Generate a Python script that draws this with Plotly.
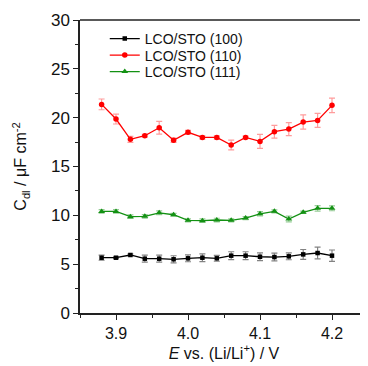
import plotly.graph_objects as go

E = [3.88, 3.90, 3.92, 3.94, 3.96, 3.98, 4.00, 4.02, 4.04, 4.06, 4.08, 4.10, 4.12, 4.14, 4.16, 4.18, 4.20]

c100 = [5.66, 5.66, 5.94, 5.56, 5.56, 5.50, 5.60, 5.66, 5.60, 5.87, 5.87, 5.76, 5.73, 5.80, 6.00, 6.14, 5.87]
e100 = [0.26, 0.10, 0.10, 0.36, 0.36, 0.36, 0.35, 0.40, 0.30, 0.40, 0.40, 0.40, 0.40, 0.35, 0.50, 0.60, 0.58]

c110 = [21.36, 19.86, 17.78, 18.15, 18.97, 17.68, 18.50, 17.98, 17.98, 17.20, 17.98, 17.57, 18.56, 18.83, 19.55, 19.72, 21.26]
e110 = [0.55, 0.51, 0.30, 0.15, 0.65, 0.22, 0.20, 0.17, 0.17, 0.50, 0.12, 0.72, 0.65, 0.67, 0.73, 0.72, 0.75]

c111 = [10.40, 10.40, 9.86, 9.90, 10.26, 10.06, 9.49, 9.45, 9.52, 9.49, 9.72, 10.16, 10.41, 9.62, 10.31, 10.72, 10.72]
e111 = [0.18, 0.18, 0.18, 0.18, 0.20, 0.15, 0.15, 0.18, 0.18, 0.15, 0.15, 0.22, 0.15, 0.30, 0.12, 0.28, 0.25]

names = ["LCO/STO (100)", "LCO/STO (110)", "LCO/STO (111)"]
x_ticks = [3.9, 4.0, 4.1, 4.2]
y_ticks = [0, 5, 10, 15, 20, 25, 30]

FONT = "Arial, Liberation Sans, sans-serif"

series = [
    (names[0], c100, e100, "#000000", "rgba(90,90,90,0.75)", "square", 4.5, "legend"),
    (names[1], c110, e110, "#ff0000", "rgba(255,90,90,0.6)", "circle", 5.5, "legend2"),
    (names[2], c111, e111, "#139113", "rgba(80,170,80,0.6)", "triangle-up", 6, "legend3"),
]

fig = go.Figure()
for name, y, err, col, ecol, sym, ms, lg in series:
    fig.add_trace(go.Scatter(
        x=E, y=y, name=name, mode="lines+markers", legend=lg,
        line=dict(color=col, width=1.3),
        marker=dict(color=col, symbol=sym, size=ms),
        error_y=dict(type="data", array=err, visible=True, color=ecol, thickness=1.2, width=3),
    ))

# page body has an 8px margin; the figure is sized to fill the rest of the window
PH = 293.0  # plot area height in px
def leg(ypix):
    # ypix: centre of the legend row in window pixels
    return dict(x=0.086, y=1 - (ypix - 8 - 12 - 1) / PH + 10 / PH, xanchor="left", yanchor="top",
                bgcolor="rgba(0,0,0,0)", font=dict(size=14, family=FONT), itemwidth=30)

fig.update_layout(
    width=360, height=358,
    margin=dict(l=72, r=0, t=12, b=53),
    plot_bgcolor="white", paper_bgcolor="white",
    font=dict(family=FONT, color="#111111"),
    showlegend=True,
    legend=leg(34), legend2=leg(50.5), legend3=leg(67),
    xaxis=dict(
        range=[3.85, 4.25], tickvals=x_ticks, ticktext=[f"{v:.1f}" for v in x_ticks],
        ticks="outside", ticklen=5, tickwidth=1.3, tickcolor="#222",
        showline=True, linecolor="#222", linewidth=1.5, showgrid=False, zeroline=False,
        minor=dict(dtick=0.05, tick0=3.85, ticks="outside", ticklen=3, tickwidth=1.2, tickcolor="#222"),
        tickfont=dict(size=16),
        title=dict(text="<i>E</i> vs. (Li/Li<sup>+</sup>) / V", font=dict(size=16), standoff=7),
    ),
    yaxis=dict(
        range=[0, 30], tickvals=y_ticks,
        ticks="outside", ticklen=5, tickwidth=1.3, tickcolor="#222",
        showline=True, linecolor="#222", linewidth=1.5, showgrid=False, zeroline=False,
        minor=dict(dtick=2.5, ticks="outside", ticklen=3, tickwidth=1.2, tickcolor="#222"),
        tickfont=dict(size=17),
        title=dict(text="C<sub>dl</sub> / μF cm<sup>-2</sup>", font=dict(size=16), standoff=20),
    ),
    shapes=[dict(type="line", xref="paper", yref="paper", x0=0, x1=1, y0=1, y1=1,
                 line=dict(color="#222", width=1.5))],
)

fig.write_html("out.html")
